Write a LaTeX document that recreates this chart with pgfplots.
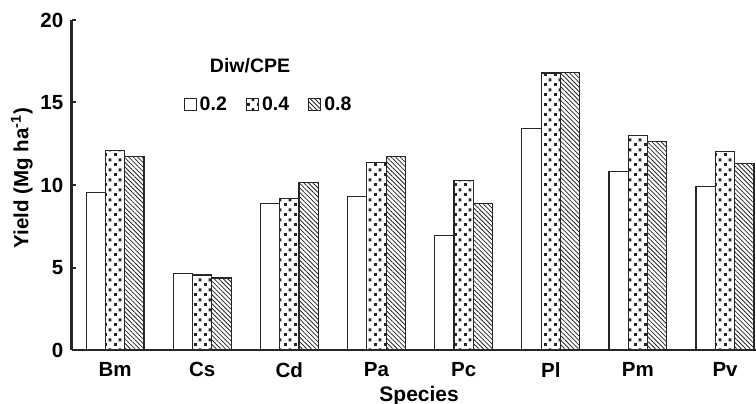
\documentclass[border=0pt]{standalone}
\usepackage{pgfplots}
\pgfplotsset{compat=1.18}
\usepackage{fontspec}
\setmainfont{Liberation Sans}
\usetikzlibrary{patterns,patterns.meta}

\pgfdeclarepatternformonly{sqdots}{\pgfqpoint{0bp}{0bp}}{\pgfqpoint{9.5bp}{9.6bp}}{\pgfqpoint{9.5bp}{9.6bp}}{%
 \pgfpathrectangle{\pgfqpoint{0bp}{0bp}}{\pgfqpoint{3bp}{3bp}}%
 \pgfpathrectangle{\pgfqpoint{4.75bp}{4.8bp}}{\pgfqpoint{3bp}{3bp}}%
 \pgfusepath{fill}}

\begin{document}
\begin{tikzpicture}[font=\fontsize{20bp}{24bp}\selectfont\bfseries]
\begin{axis}[
 at={(0,0)}, anchor=south west,
 scale only axis, width=684.9bp, height=330bp,
 xmin=-0.5, xmax=7.36, ymin=0, ymax=20,
 axis x line*=bottom, axis y line*=left,
 axis line style={line width=2.4bp, black!85, -},
 xtick={0,...,7}, xticklabels={Bm,Cs,Cd,Pa,Pc,Pl,Pm,Pv},
 x tick style={draw=none},
 ytick={0,5,10,15,20},
 y tick style={line width=2bp, black!85},
 tick align=inside, major tick length=4bp,
 /pgf/number format/assume math mode=true,
 ticklabel style={font=\fontsize{20.5bp}{24bp}\selectfont\bfseries},
 yticklabel style={inner xsep=0pt, xshift=-8bp},
 xticklabel style={inner ysep=0pt, yshift=-8bp},
 xlabel={Species},
 xlabel style={at={(axis description cs:0.5076,0)}, anchor=base, yshift=-51bp, font=\fontsize{21bp}{24bp}\selectfont\bfseries},
 ylabel={Yield (Mg ha\textsuperscript{-1})},
 ylabel style={at={(axis description cs:-0.0631,0.521)}, anchor=base, rotate=0, font=\fontsize{20.5bp}{24bp}\selectfont\bfseries},
 ybar, bar width=0.2216,
 legend columns=3,
 legend style={at={(axis description cs:0.1633,0.745)}, anchor=west, draw=none, fill=none, inner sep=0pt,
   font=\fontsize{19.5bp}{22bp}\selectfont\bfseries,
   /tikz/every odd column/.append style={column sep=2bp},
   /tikz/every even column/.append style={column sep=18bp},
   nodes={inner sep=1bp}},
 legend image code/.code={\draw[#1,line width=1.2bp] (0bp,-6bp) rectangle (12bp,6bp);},
]
\addplot[draw=black!85, line width=1.2bp, fill=white, bar shift=-0.2216]
 coordinates {(0,9.53) (1,4.62) (2,8.89) (3,9.29) (4,6.93) (5,13.43) (6,10.81) (7,9.90)};
\addlegendentry{0.2}
\addplot[draw=black!85, line width=1.2bp, fill=white, pattern=sqdots, pattern color=black!85, bar shift=0]
 coordinates {(0,12.10) (1,4.55) (2,9.19) (3,11.35) (4,10.26) (5,16.79) (6,12.99) (7,12.02)};
\addlegendentry{0.4}
\addplot[draw=black!85, line width=1.2bp, fill=white, pattern={Lines[angle=-45,distance=3.2bp,line width=0.8bp]}, pattern color=black!85, bar shift=0.2216]
 coordinates {(0,11.72) (1,4.36) (2,10.16) (3,11.72) (4,8.89) (5,16.83) (6,12.65) (7,11.29)};
\addlegendentry{0.8}
\node[anchor=base, font=\fontsize{19.5bp}{22bp}\selectfont\bfseries] at (axis description cs:0.2607,0.8424) {Diw/CPE};
\end{axis}
\pgfresetboundingbox
\path[use as bounding box] (-71.5bp,-54bp) rectangle (684.5bp,350bp);
\end{tikzpicture}
\end{document}
